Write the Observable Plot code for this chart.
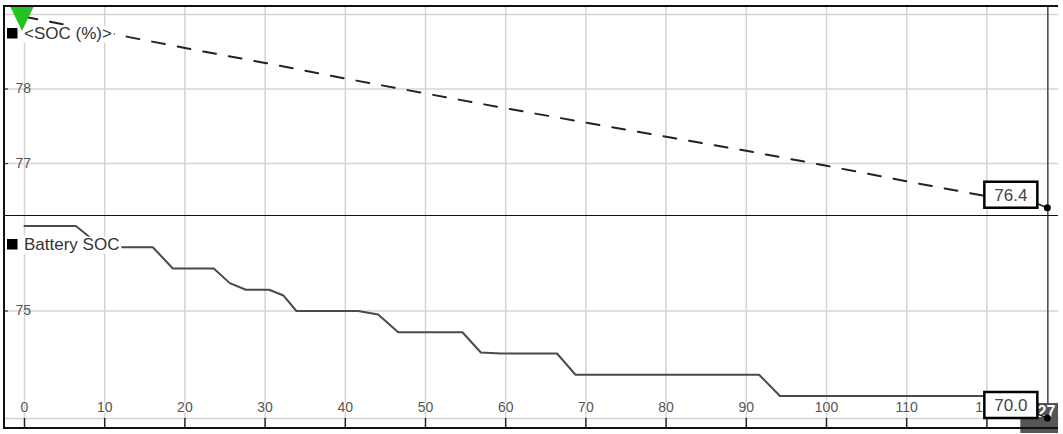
<!DOCTYPE html>
<html><head><meta charset="utf-8">
<script src="https://cdn.jsdelivr.net/npm/d3@7"></script>
<script src="https://cdn.jsdelivr.net/npm/@observablehq/plot@0.6"></script>
<style>
body{margin:0;background:#fff;font-family:"Liberation Sans",Arial,sans-serif;}
#wrap{position:relative;width:1063px;height:434px;overflow:hidden;background:#fff;}
.panel{position:absolute;left:4px;}
.ln{position:absolute;background:#111;}
</style></head><body><div id="wrap"></div>
<script>
// ---- data ----
const xTicks = [0,10,20,30,40,50,60,70,80,90,100,110,120];
const socTime  = [0,10,20,30,40,50,60,70,80,90,100,110,120,127.6];
const socValue = [78.97,78.76,78.55,78.35,78.14,77.94,77.74,77.55,77.36,77.17,76.97,76.76,76.56,76.40];
const battTime  = [0,6.4,9.7,16.0,18.5,23.6,25.6,27.6,30.5,32.3,33.9,41.6,44.1,46.6,54.6,56.9,59.4,66.4,68.7,91.6,94.2,120];
const battValue = [80,80,78.75,78.75,77.5,77.5,76.64,76.25,76.25,75.91,75,75,74.79,73.75,73.75,72.56,72.5,72.5,71.25,71.25,70,70];
const topGridY = [77,78,79];
const topTickY = [77,78];
const botGridY = [75];
const botTickY = [75];
const cursorTime = 127.6;
const topLegend = "<SOC (%)>";
const botLegend = "Battery SOC";
const topValueText = "76.4";
const botValueText = "70.0";
const cursorText = "127";

// ---- layout ----
const W = 1054;
const xDomain = [-2.494, 128.93];
const FONT = '"Liberation Sans", Arial, sans-serif';
const GRID = "#d4d4d4";

function textWidth(t, size){
  const c = document.createElement("canvas").getContext("2d");
  c.font = size + "px " + FONT;
  return c.measureText(t).width;
}

function legendMark(label, baseline){
  return (index, scales, values, dims) => {
    const g = d3.create("svg:g");
    const tw = textWidth(label, 17);
    g.append("rect").attr("x", 18).attr("y", baseline - 13.5).attr("width", tw + 4).attr("height", 17.5).attr("fill", "#fff");
    g.append("rect").attr("x", 3).attr("y", baseline - 11).attr("width", 10.5).attr("height", 10.5).attr("fill", "#000");
    g.append("text").attr("x", 20).attr("y", baseline).attr("text-anchor", "start").attr("font-size", 17).attr("font-family", FONT)
      .attr("fill", "#333").text(label);
    return g.node();
  };
}

function valueBox(t, v, txt){
  return (index, {x, y}, values, dims) => {
    const px = x(t);
    const py = v == null ? dims.height - dims.marginBottom : y(v);
    const g = d3.create("svg:g");
    g.append("line").attr("x1", px - 10).attr("y1", py - 4).attr("x2", px).attr("y2", py)
      .attr("stroke", "#222").attr("stroke-width", 1.5);
    g.append("rect").attr("x", px - 63).attr("y", py - 26).attr("width", 53).attr("height", 26)
      .attr("fill", "#fff").attr("stroke", "#000").attr("stroke-width", 2.5);
    g.append("text").attr("x", px - 36.5).attr("y", py - 13).attr("dy", "0.36em").attr("text-anchor", "middle")
      .attr("font-size", 17).attr("font-family", FONT).attr("fill", "#444").text(txt);
    g.append("circle").attr("cx", px).attr("cy", py).attr("r", 3.5).attr("fill", "#000");
    return g.node();
  };
}

function triangleMark(){
  return (index, {x}, values, dims) => {
    const x0 = x(0);
    const g = d3.create("svg:g");
    g.append("polygon").attr("points", `${x0-14},0 ${x0+10},0 ${x0-2},25`).attr("fill", "#22c322");
    return g.node();
  };
}

function cursorBox(t, txt){
  return (index, {x}, values, dims) => {
    const px = x(t);
    const fb = dims.height - dims.marginBottom;
    const g = d3.create("svg:g");
    g.append("rect").attr("x", px - 27).attr("y", fb - 15).attr("width", dims.width - (px - 27)).attr("height", 30).attr("fill", "#555");
    g.append("text").attr("x", px + 8).attr("y", fb - 1).attr("text-anchor", "end").attr("font-weight", "bold")
      .attr("font-size", 16).attr("font-family", FONT).attr("fill", "#fff").text(txt);
    return g.node();
  };
}

const soc = socTime.map((t, i) => ({t, v: socValue[i]}));
const batt = battTime.map((t, i) => ({t, v: battValue[i]}));

const topPlot = Plot.plot({
  width: W, height: 210, margin: 0,
  style: {fontFamily: FONT, background: "transparent", overflow: "visible"},
  x: {domain: xDomain, axis: null},
  y: {domain: [76.289, 79.107], axis: null},
  marks: [
    Plot.ruleX(xTicks, {stroke: GRID, strokeWidth: 1.5}),
    Plot.ruleY(topGridY, {stroke: GRID, strokeWidth: 1.5}),
    Plot.ruleY(topTickY, {stroke: "#333", strokeWidth: 1.2, insetRight: W - 4}),
    Plot.text(topTickY, {y: d => d, text: d => String(d), frameAnchor: "left", dx: 11, textAnchor: "start", fill: "#555", fontSize: 14}),
    Plot.ruleX([cursorTime], {stroke: "#444", strokeWidth: 1.5}),
    Plot.line(soc, {x: "t", y: "v", stroke: "#222", strokeWidth: 2, strokeDasharray: "13,13"}),
    legendMark(topLegend, 33),
    valueBox(cursorTime, socValue[socValue.length - 1], topValueText),
    triangleMark()
  ]
});

const botPlot = Plot.plot({
  width: W, height: 212, marginTop: 0, marginLeft: 0, marginRight: 0, marginBottom: 10,
  style: {fontFamily: FONT, background: "transparent", overflow: "visible"},
  x: {domain: xDomain, axis: null},
  y: {domain: [68.676, 80.559], axis: null},
  marks: [
    Plot.ruleX(xTicks, {stroke: GRID, strokeWidth: 1.5}),
    Plot.ruleY(botGridY, {stroke: GRID, strokeWidth: 1.5}),
    Plot.frame({anchor: "bottom", stroke: GRID, strokeWidth: 1.5}),
    Plot.axisX({ticks: xTicks, tickSize: 10, tickFormat: () => "", stroke: "#222", strokeWidth: 1.5}),
    Plot.ruleY(botTickY, {stroke: "#333", strokeWidth: 1.2, insetRight: W - 4}),
    Plot.text(botTickY, {y: d => d, text: d => String(d), frameAnchor: "left", dx: 11, textAnchor: "start", fill: "#555", fontSize: 14}),
    Plot.text(xTicks, {x: d => d, text: d => String(d), frameAnchor: "bottom", dy: -7, fill: "#555", fontSize: 14, stroke: "#fff", strokeWidth: 2}),
    Plot.ruleX([cursorTime], {stroke: "#444", strokeWidth: 1.5, insetBottom: -10}),
    Plot.line(batt, {x: "t", y: "v", stroke: "#4a4a4a", strokeWidth: 2}),
    legendMark(botLegend, 34),
    cursorBox(cursorTime, cursorText),
    valueBox(cursorTime, null, botValueText)
  ]
});

const wrap = document.getElementById("wrap");
topPlot.classList.add("panel"); topPlot.style.top = "6px";
botPlot.classList.add("panel"); botPlot.style.top = "216px";
wrap.appendChild(topPlot);
wrap.appendChild(botPlot);
[[3,5,1055,2],[3,5,2,424],[3,427,1055,2],[4,215,1054,1.2]].forEach(([l,t,w,h]) => {
  const d = document.createElement("div");
  d.className = "ln";
  Object.assign(d.style, {left: l + "px", top: t + "px", width: w + "px", height: h + "px"});
  wrap.appendChild(d);
});
</script></body></html>
